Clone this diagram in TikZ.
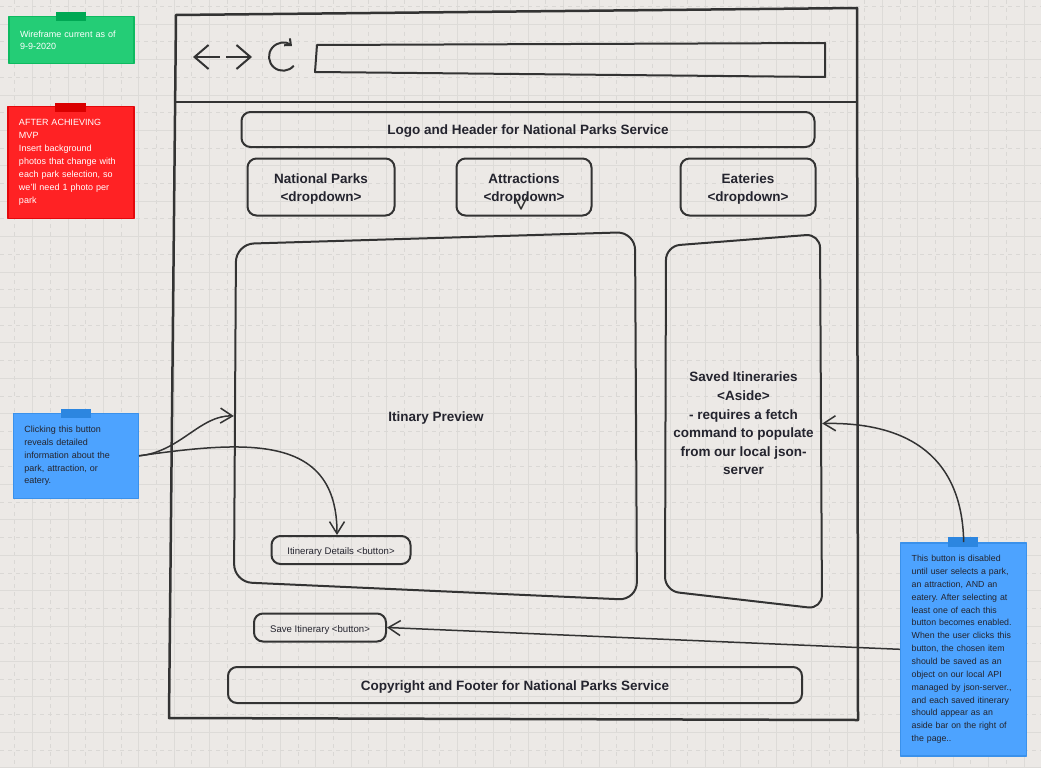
\documentclass[tikz,border=0pt]{standalone}
\usepackage{fontspec}
\setmainfont{Liberation Sans}
\usepackage{tikz}
\usetikzlibrary{positioning}
\usetikzlibrary{arrows.meta}
\frenchspacing

\definecolor{board}{RGB}{236,233,230}
\definecolor{gridline}{RGB}{221,219,216}
\definecolor{griddash}{RGB}{218,216,213}
\definecolor{ink}{RGB}{51,51,51}
\definecolor{textink}{RGB}{36,36,46}
\definecolor{notegreen}{RGB}{36,205,118}
\definecolor{edgegreen}{RGB}{14,186,96}
\definecolor{tapegreen}{RGB}{0,168,84}
\definecolor{notered}{RGB}{255,34,36}
\definecolor{edgered}{RGB}{228,8,12}
\definecolor{tapered}{RGB}{218,0,0}
\definecolor{noteblue}{RGB}{77,163,255}
\definecolor{edgeblue}{RGB}{58,145,235}
\definecolor{tapeblue}{RGB}{44,134,224}

\begin{document}
\begin{tikzpicture}[x=1pt,y=-1pt,>={Straight Barb[length=12pt,width=15pt]},
                    line join=round,
                    frame/.style={draw=ink,line width=2.5pt},
                    main node/.style={draw=ink,line width=2pt,rounded corners=9pt,text=textink,
                            font=\bfseries\fontsize{13.5}{17.4}\selectfont,align=center,text height=13.8pt},
                    drop node/.style={main node,minimum height=57pt,text height=31.2pt},
                    area node/.style={text=textink,align=center,
                            font=\bfseries\fontsize{13.5}{18.6}\selectfont},
                    button node/.style={draw=ink,line width=2pt,rounded corners=9pt,text=textink,
                            font=\fontsize{9.6}{12}\selectfont,minimum height=28pt,text height=11pt},
                    note node/.style={line width=1.5pt,align=left,inner xsep=11pt,
                            font=\fontsize{9}{12.9}\selectfont},
                    wire/.style={draw=ink,line width=1.5pt}]

    % board with its grid
    \useasboundingbox (0,0) rectangle (1041,768);
    \fill[board] (0,0) rectangle (1041,768);
    \foreach \i in {0,...,29} {
        \draw[gridline,line width=1pt] ({32.7+35.41*\i},0) -- ({32.7+35.41*\i},768);
        \draw[griddash,line width=1pt,dash pattern=on 4pt off 4pt] ({14.8+35.41*\i},0) -- ({14.8+35.41*\i},768);
    }
    \foreach \j in {0,...,21} {
        \draw[gridline,line width=1pt] (0,{24.2+35.41*\j}) -- (1041,{24.2+35.41*\j});
        \draw[griddash,line width=1pt,dash pattern=on 4pt off 4pt] (0,{6.5+35.41*\j}) -- (1041,{6.5+35.41*\j});
    }

    % browser window
    \draw[frame] (176,15) -- (857,8) -- (858,720) -- (169,718) -- cycle;
    \draw[frame] (176,102) -- (857,102);
    \draw[draw=ink,line width=2pt,{Straight Barb[length=14pt,width=24pt]}-] (193,57) -- (220,57);
    \draw[draw=ink,line width=2pt,-{Straight Barb[length=14pt,width=24pt]}] (226,57) -- (252,57);
    \draw[draw=ink,line width=2pt,{Straight Barb[length=5pt,width=9pt]}-] (292,46) arc[start angle=50,end angle=320,radius=14pt];
    \draw[draw=ink,line width=2pt] (317,45) -- (825,43) -- (825,77) -- (315,72) -- cycle;

    % page content
    \node[main node,minimum width=573pt,minimum height=35pt] (logo) at (528,129.5) {Logo and Header for National Parks Service};
    \node[drop node,minimum width=147pt] (parks) at (321,187) {National Parks\\<dropdown>};
    \node[drop node,minimum width=135pt] (attractions) [right=60pt of parks] {Attractions\\<dropdown>};
    \node[drop node,minimum width=135pt] (eateries) [right=87pt of attractions] {Eateries\\<dropdown>};
    \draw[draw=ink,line width=1.5pt] (515,197) -- (521,209) -- (527,197);

    \draw[draw=ink,line width=2pt,rounded corners=18pt] (236,244) -- (635,232) -- (637,600) -- (234,582) -- cycle;
    \node[area node,minimum width=404pt,text height=13.8pt] (preview) at (436,416) {Itinary Preview};
    \node[button node,minimum width=139pt] (details) at (341,550) {Itinerary Details <button>};

    \draw[draw=ink,line width=2pt,rounded corners=14pt] (666,246) -- (820,234) -- (822,609) -- (665,591) -- cycle;
    \node[area node,minimum width=157pt] (aside) at (743.5,423.5) {Saved Itineraries\\<Aside>\\- requires a fetch\\command to populate\\from our local json-\\server};

    \node[button node,minimum width=132pt] (save) at (320,627.5) {Save Itinerary <button>};
    \node[main node,minimum width=574pt,minimum height=36pt] (footer) at (515,685) {Copyright and Footer for National Parks Service};

    % sticky notes
    \node[note node,fill=notegreen,draw=edgegreen,text=white,text width=103pt,minimum height=47pt,
          font=\fontsize{9}{12}\selectfont] (status) at (71.5,40) {Wireframe current as of\\9-9-2020};
    \fill[tapegreen] (56,12) rectangle (86,21);
    \node[note node,fill=notered,draw=edgered,text=white,text width=104pt,minimum height=112pt,
          font=\fontsize{9}{13}\selectfont] (mvp) at (71,162.5) {AFTER ACHIEVING\\MVP\\Insert background\\photos that change with\\each park selection, so\\we'll need 1 photo per\\park};
    \fill[tapered] (55,102.5) rectangle (86,111.5);
    \node[note node,fill=noteblue,draw=edgeblue,text=textink,text width=103pt,minimum height=85pt] (noteleft) at (75.8,455.8) {Clicking this button\\reveals detailed\\information about the\\park, attraction, or\\eatery.};
    \fill[tapeblue] (61,409) rectangle (91,417.5);
    \node[note node,fill=noteblue,draw=edgeblue,text=textink,text width=104pt,minimum height=213pt,
          font=\fontsize{8.8}{12.86}\selectfont] (noteright) at (963.7,649.3) {This button is disabled\\until user selects a park,\\an attraction, AND an\\eatery. After selecting at\\least one of each this\\button becomes enabled.\\When the user clicks this\\button, the chosen item\\should be saved as an\\object on our local API\\managed by json-server.,\\and each saved itinerary\\should appear as an\\aside bar on the right of\\the page..};
    \fill[tapeblue] (948,537) rectangle (978,546.5);

    % connectors
    \draw[wire,->] (noteleft.east) .. controls (180,452) and (200,415) .. (preview.west);
    \draw[wire,->] (noteleft.east) .. controls (250,440) and (337,435) .. ([xshift=-4pt]details.north);
    \draw[wire,->] (noteright.north) .. controls (962,450) and (900,422) .. (aside.east);
    \path[wire] (noteright.west) edge[->] (save.east);
\end{tikzpicture}
\end{document}
